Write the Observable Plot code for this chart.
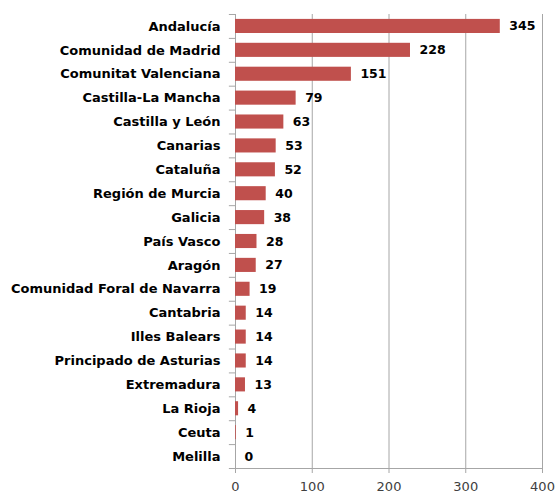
<!DOCTYPE html>
<html>
<head>
<meta charset="utf-8">
<script src="https://cdn.jsdelivr.net/npm/d3@7"></script>
<script src="https://cdn.jsdelivr.net/npm/@observablehq/plot@0.6"></script>
<style>
  html, body { margin: 0; padding: 0; background: white; }
</style>
</head>
<body>
<div id="chart"></div>
<script>
const regions = [
  "Andalucía", "Comunidad de Madrid", "Comunitat Valenciana", "Castilla-La Mancha",
  "Castilla y León", "Canarias", "Cataluña", "Región de Murcia", "Galicia",
  "País Vasco", "Aragón", "Comunidad Foral de Navarra", "Cantabria", "Illes Balears",
  "Principado de Asturias", "Extremadura", "La Rioja", "Ceuta", "Melilla"
];
const counts = [345, 228, 151, 79, 63, 53, 52, 40, 38, 28, 27, 19, 14, 14, 14, 13, 4, 1, 0];
const xTicks = [0, 100, 200, 300, 400];

const data = regions.map((r, i) => ({region: r, count: counts[i]}));
const W = 556, H = 493, mT = 14, mB = 25, mL = 235, mR = 14;
const step = (H - mT - mB) / regions.length;
const gray = "#a6a6a6";

const chart = Plot.plot({
  width: W, height: H,
  marginLeft: mL, marginRight: mR, marginTop: mT, marginBottom: mB,
  style: {fontFamily: "DejaVu Sans", fontSize: "13px", background: "white", color: "black"},
  x: {domain: [0, 400], label: null},
  y: {domain: regions, paddingInner: 0.41, paddingOuter: 0.205, round: false, label: null},
  marks: [
    Plot.gridX(xTicks.slice(1), {stroke: gray, strokeOpacity: 1}),
    Plot.ruleX([0], {stroke: gray}),
    Plot.ruleY(regions, {y: d => d, x1: -8, x2: 0, dy: -step / 2, stroke: gray}),
    Plot.ruleY([regions[regions.length - 1]], {y: d => d, x1: -8, x2: 400, dy: step / 2, stroke: gray}),
    Plot.barX(data, {x: "count", y: "region", fill: "#C0504D"}),
    Plot.text(data, {x: "count", y: "region", text: d => String(d.count), dx: 9, textAnchor: "start",
      fontWeight: "bold", fontSize: 12.5, fill: "black"}),
    Plot.axisY({tickSize: 0, tickPadding: 15, fontWeight: "bold", fontSize: 13, fill: "black"}),
    Plot.axisX(xTicks, {tickSize: 5, tickPadding: 8, fontSize: 13, stroke: gray, fill: "#404040"})
  ]
});
document.getElementById("chart").appendChild(chart);
</script>
</body>
</html>
